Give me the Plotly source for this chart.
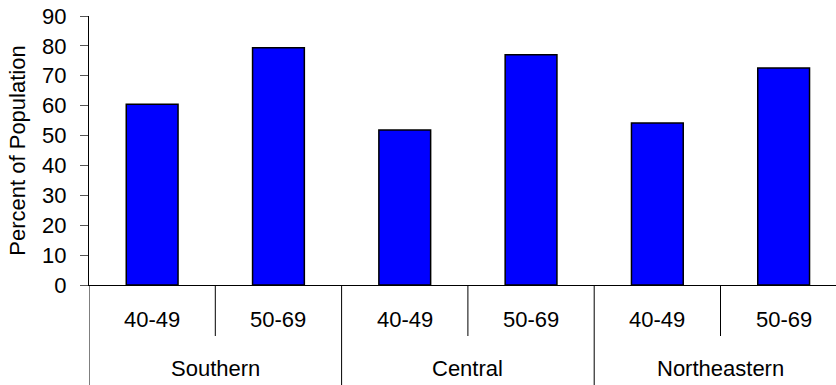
import plotly.graph_objects as go

# Screening coverage by region and age band
regions = ["Southern", "Central", "Northeastern"]
age_bands = ["40-49", "50-69"]
percent = [60.5, 79.4, 51.9, 77.0, 54.2, 72.6]

y_ticks = [0, 10, 20, 30, 40, 50, 60, 70, 80, 90]

FONT = "Liberation Sans, Arial, sans-serif"
FS = 22
W, H = 836, 385
M_L, M_R, M_T, M_B = 89, 0, 16, 100
plot_h = H - M_T - M_B


def paper_y(px):
    """Convert a pixel row below the plot's top edge into paper units."""
    return (H - M_B - px) / plot_h


# one slot per (region, age band) pair
labels = [(r, a) for r in regions for a in age_bands]
xs = list(range(len(labels)))
n_sub = len(age_bands)

fig = go.Figure(
    go.Bar(
        x=xs,
        y=percent,
        marker=dict(color="#0000FF", line=dict(color="black", width=1.5)),
        hoverinfo="skip",
    )
)

shapes = []
annotations = []

# age-band labels and the short separators between them
for i, (r, a) in enumerate(labels):
    annotations.append(dict(
        x=i, y=paper_y(319.5), xref="x", yref="paper", text=a, showarrow=False,
        font=dict(family=FONT, size=FS, color="black"), yanchor="middle",
    ))
    if i % n_sub != 0:
        shapes.append(dict(
            type="line", xref="x", yref="paper", x0=i - 0.5, x1=i - 0.5,
            y0=0, y1=paper_y(336), line=dict(color="black", width=1),
        ))

# region labels and the full-height separators between regions
for g, r in enumerate(regions):
    first = g * n_sub
    annotations.append(dict(
        x=first + (n_sub - 1) / 2, y=paper_y(368), xref="x", yref="paper",
        text=r, showarrow=False, font=dict(family=FONT, size=FS, color="black"),
        yanchor="middle",
    ))
    shapes.append(dict(
        type="line", xref="x", yref="paper", x0=first - 0.5, x1=first - 0.5,
        y0=0, y1=paper_y(H), line=dict(color="black", width=1),
    ))

fig.update_layout(
    width=W,
    height=H,
    margin=dict(l=M_L, r=M_R, t=M_T, b=M_B, pad=0),
    plot_bgcolor="white",
    paper_bgcolor="white",
    bargap=0.59,
    showlegend=False,
    shapes=shapes,
    annotations=annotations,
    font=dict(family=FONT, size=FS, color="black"),
    xaxis=dict(
        range=[-0.5, -0.5 + (W - M_L) / 126.3],
        showticklabels=False,
        ticks="",
        showgrid=False,
        zeroline=False,
        showline=True,
        linecolor="black",
        linewidth=1,
        fixedrange=True,
    ),
    yaxis=dict(
        range=[0, 90],
        tickvals=y_ticks,
        ticks="outside",
        ticklen=8,
        tickcolor="#555555",
        tickwidth=1,
        ticklabelstandoff=9,
        showgrid=False,
        zeroline=False,
        showline=True,
        linecolor="black",
        linewidth=1,
        tickfont=dict(family=FONT, size=FS, color="black"),
        title=dict(text="Percent of Population", standoff=10,
                   font=dict(family=FONT, size=FS, color="black")),
        fixedrange=True,
    ),
)

fig.write_html("out.html", config={"displayModeBar": False})
